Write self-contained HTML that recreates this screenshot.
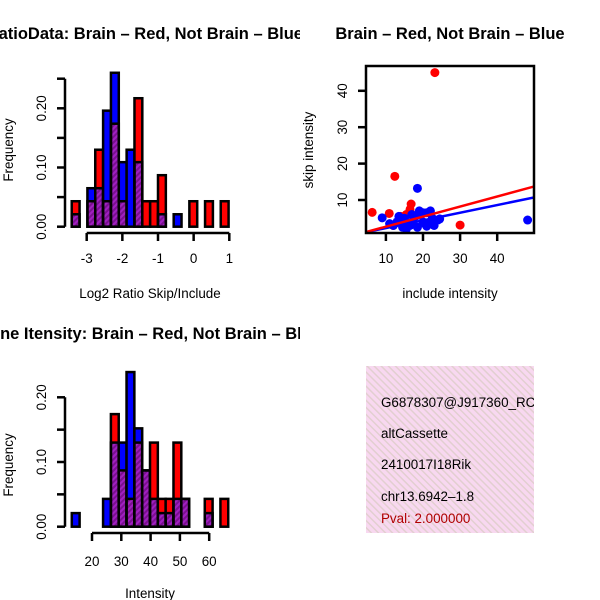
<!DOCTYPE html>
<html><head><meta charset="utf-8"><style>
html,body{margin:0;padding:0;background:#fff}
svg{display:block;font-family:"Liberation Sans",sans-serif}
</style></head><body>
<svg id="c" width="600" height="600" viewBox="0 0 600 600">
<defs>
<pattern id="purp" width="4" height="4" patternUnits="userSpaceOnUse" patternTransform="rotate(45)">
<rect width="4" height="4" fill="#a020c0"/><rect width="2" height="4" fill="#7a1090"/></pattern>
<pattern id="pink" width="5" height="5" patternUnits="userSpaceOnUse" patternTransform="rotate(-45)">
<rect width="5" height="5" fill="#f8d8f0"/><rect width="1.5" height="5" fill="#e2cfd0"/></pattern>
<clipPath id="clipL"><rect x="0" y="0" width="300" height="600"/></clipPath>
</defs>
</svg>
<script>
// Top histogram (log2 ratio)
const ratioBinStart=-3.42, ratioBinWidth=0.22;
const ratioRed=[0.043,0,0.043,0.13,0.043,0.174,0.043,0,0.217,0.043,0.043,0.087,0,0,0,0.043,0,0.043,0,0.043];
const ratioBlue=[0.021,0,0.065,0.065,0.196,0.26,0.109,0.13,0.109,0,0,0.021,0,0.021,0,0,0,0,0,0];
const ratioXTicks=[-3,-2,-1,0,1];
const ratioYTicks=[0,0.05,0.10,0.15,0.20,0.25];
const ratioYLabels=["0.00","","0.10","","0.20",""];
// Bottom histogram (intensity)
const intBinStart=13.1, intBinWidth=2.67;
const intRed=[0,0,0,0,0,0.174,0.087,0.043,0.13,0.087,0.13,0.043,0.043,0.13,0.043,0,0,0.043,0,0.043];
const intBlue=[0.021,0,0,0,0.043,0.13,0.13,0.239,0.152,0.087,0.043,0.021,0.021,0.043,0.043,0,0,0.021,0,0];
const intXTicks=[20,30,40,50,60];
const intYTicks=[0,0.05,0.10,0.15,0.20];
const intYLabels=["0.00","","0.10","","0.20"];
// Scatter
const redX=[23.2,12.4,6.3,10.9,16.8,30,16.5,14,12,15.5];
const redY=[45,16.5,6.6,6.3,8.9,3.1,7.4,5.5,3,6];
const blueX=[18.5,9,48.2,12,13,14,15,16,17,18,19,20,21,22,23,24,14.5,16.5,18.5,20.5,22.5,19,17,21,11,13.5,15.5,22,24.5,20];
const blueY=[13.2,5.1,4.5,3,4,4.5,5,3.5,4,5.5,6,4,6.5,7,3,4.5,2.5,3,2.5,3.5,5,7,6,2.8,3.5,5.5,2,4,4.8,6.5];
const scXTicks=[10,20,30,40];
const scYTicks=[10,20,30,40];
const redLine=[[4.3,1.1],[49.9,13.7]];
const blueLine=[[4.3,1.1],[49.9,10.7]];

const svg=document.getElementById('c');
const NS='http://www.w3.org/2000/svg';
const FS=13.4, TFS=16.5;
function mk(tag,attrs,parent){const e=document.createElementNS(NS,tag);for(const k in attrs)e.setAttribute(k,attrs[k]);(parent||svg).appendChild(e);return e;}
function txt(s,x,y,size,opt){const e=mk('text',Object.assign({x:x,y:y,'font-size':size,'text-anchor':'middle',fill:'#000'},opt||{}));e.textContent=s;return e;}

function hist(g,red,blue,binStart,binW,sx,sy){
  for(let i=0;i<red.length;i++){
    const r=red[i],b=blue[i];const hi=Math.max(r,b),lo=Math.min(r,b);
    if(hi<=0)continue;
    const x0=sx(binStart+i*binW),x1=sx(binStart+(i+1)*binW);
    const bar=mk('g',{},g);
    
    
    mk('rect',{x:x0,y:sy(hi),width:x1-x0,height:sy(0)-sy(hi),fill:r>=b?'#f00':'#00f'},bar);
    if(lo>0)mk('rect',{x:x0,y:sy(lo),width:x1-x0,height:sy(0)-sy(lo),fill:'url(#purp)',stroke:'#000','stroke-width':2.5},bar);
    mk('rect',{x:x0,y:sy(hi),width:x1-x0,height:sy(0)-sy(hi),fill:'none',stroke:'#000','stroke-width':2.5},bar);
  }
}
function yAxis(g,ticks,labels,x,sy,labX){
  mk('line',{x1:x,x2:x,y1:sy(ticks[0]),y2:sy(ticks[ticks.length-1]),stroke:'#000','stroke-width':2.5},g);
  ticks.forEach((t,i)=>{mk('line',{x1:x-8,x2:x,y1:sy(t),y2:sy(t),stroke:'#000','stroke-width':2.5},g);
    if(labels[i]){const l=txt(labels[i],labX,sy(t),FS,{transform:`rotate(-90 ${labX} ${sy(t)})`},);g.appendChild(l);}});
}
function xAxis(g,ticks,y,sx,labY){
  mk('line',{x1:sx(ticks[0]),x2:sx(ticks[ticks.length-1]),y1:y,y2:y,stroke:'#000','stroke-width':2.5},g);
  ticks.forEach(t=>{mk('line',{x1:sx(t),x2:sx(t),y1:y,y2:y+8,stroke:'#000','stroke-width':2.5},g);
    g.appendChild(txt(String(t),sx(t),labY,FS));});
}

// ----- top histogram
{
  const g=mk('g',{});
  const sx=v=>86.7+(v+3)*35.65, sy=v=>226.7-v*592;
  hist(g,ratioRed,ratioBlue,ratioBinStart,ratioBinWidth,sx,sy);
  yAxis(g,ratioYTicks,ratioYLabels,65,sy,46);
  xAxis(g,ratioXTicks,233,sx,263);
  const t=txt('Log2 RatioData: Brain – Red, Not Brain – Blue',303,39,TFS,{'text-anchor':'end','font-weight':'bold','clip-path':'url(#clipL)'});
  
  const xl=txt('Log2 Ratio Skip/Include',150,298,FS);
  const yl=txt('Frequency',13,150,FS,{transform:'rotate(-90 13 150)'});
}
// ----- bottom histogram
{
  const g=mk('g',{});
  const sx=v=>92+(v-20)*2.93, sy=v=>526.7-v*647;
  hist(g,intRed,intBlue,intBinStart,intBinWidth,sx,sy);
  yAxis(g,intYTicks,intYLabels,65,sy,46);
  xAxis(g,intXTicks,533,sx,566);
  const t=txt('Gene Itensity: Brain – Red, Not Brain – Blue',321,339,TFS,{'text-anchor':'end','font-weight':'bold','clip-path':'url(#clipL)'});
  
  const xl=txt('Intensity',150,598,FS);
  const yl=txt('Frequency',13,465,FS,{transform:'rotate(-90 13 465)'});
}
// ----- scatter
{
  const g=mk('g',{});
  const sx=v=>348.8+v*3.71, sy=v=>236.4-v*3.64;
  const cp=mk('clipPath',{id:'scClip'},g);mk('rect',{x:366,y:66,width:168,height:167},cp);
  const pg=mk('g',{'clip-path':'url(#scClip)'},g);
  redX.forEach((x,i)=>{const c=mk('circle',{cx:sx(x),cy:sy(redY[i]),r:4.5,fill:'#f00'},pg);
    });
  blueX.forEach((x,i)=>{const c=mk('circle',{cx:sx(x),cy:sy(blueY[i]),r:4.5,fill:'#00f'},pg);
    });
  const bl=mk('line',{x1:sx(blueLine[0][0]),y1:sy(blueLine[0][1]),x2:sx(blueLine[1][0]),y2:sy(blueLine[1][1]),stroke:'#00f','stroke-width':2.5},pg);
  
  const rl=mk('line',{x1:sx(redLine[0][0]),y1:sy(redLine[0][1]),x2:sx(redLine[1][0]),y2:sy(redLine[1][1]),stroke:'#f00','stroke-width':2.5},pg);
  
  mk('rect',{x:366,y:66,width:168,height:167,fill:'none',stroke:'#000','stroke-width':2.5},g);
  scXTicks.forEach(t=>{mk('line',{x1:sx(t),x2:sx(t),y1:233,y2:241,stroke:'#000','stroke-width':2.5},g);g.appendChild(txt(String(t),sx(t),263,FS));});
  scYTicks.forEach(t=>{mk('line',{x1:358,x2:366,y1:sy(t),y2:sy(t),stroke:'#000','stroke-width':2.5},g);g.appendChild(txt(String(t),347,sy(t),FS,{transform:`rotate(-90 347 ${sy(t)})`}));});
  const t=txt('Brain – Red, Not Brain – Blue',450,39,TFS,{'font-weight':'bold'});
  const xl=txt('include intensity',450,298,FS);
  const yl=txt('skip intensity',313,150,FS,{transform:'rotate(-90 313 150)'});
}
// ----- info panel
{
  const g=mk('g',{});
  const cp=mk('clipPath',{id:'infoClip'},g);mk('rect',{x:366,y:366,width:168,height:167},cp);
  mk('rect',{x:366,y:366,width:168,height:167,fill:'url(#pink)'},g);
  const lines=[['G6878307@J917360_RC',407,'#000','exon-id'],['altCassette',438,'#000','event-type'],['2410017I18Rik',469,'#000','gene-name'],['chr13.6942–1.8',501,'#000','location'],['Pval: 2.000000',523,'#b00000','p-value']];
  lines.forEach(l=>{const e=txt(l[0],381,l[1],FS,{'text-anchor':'start',fill:l[2],'clip-path':'url(#infoClip)'});g.appendChild(e);
    });
}
</script>
</body></html>
